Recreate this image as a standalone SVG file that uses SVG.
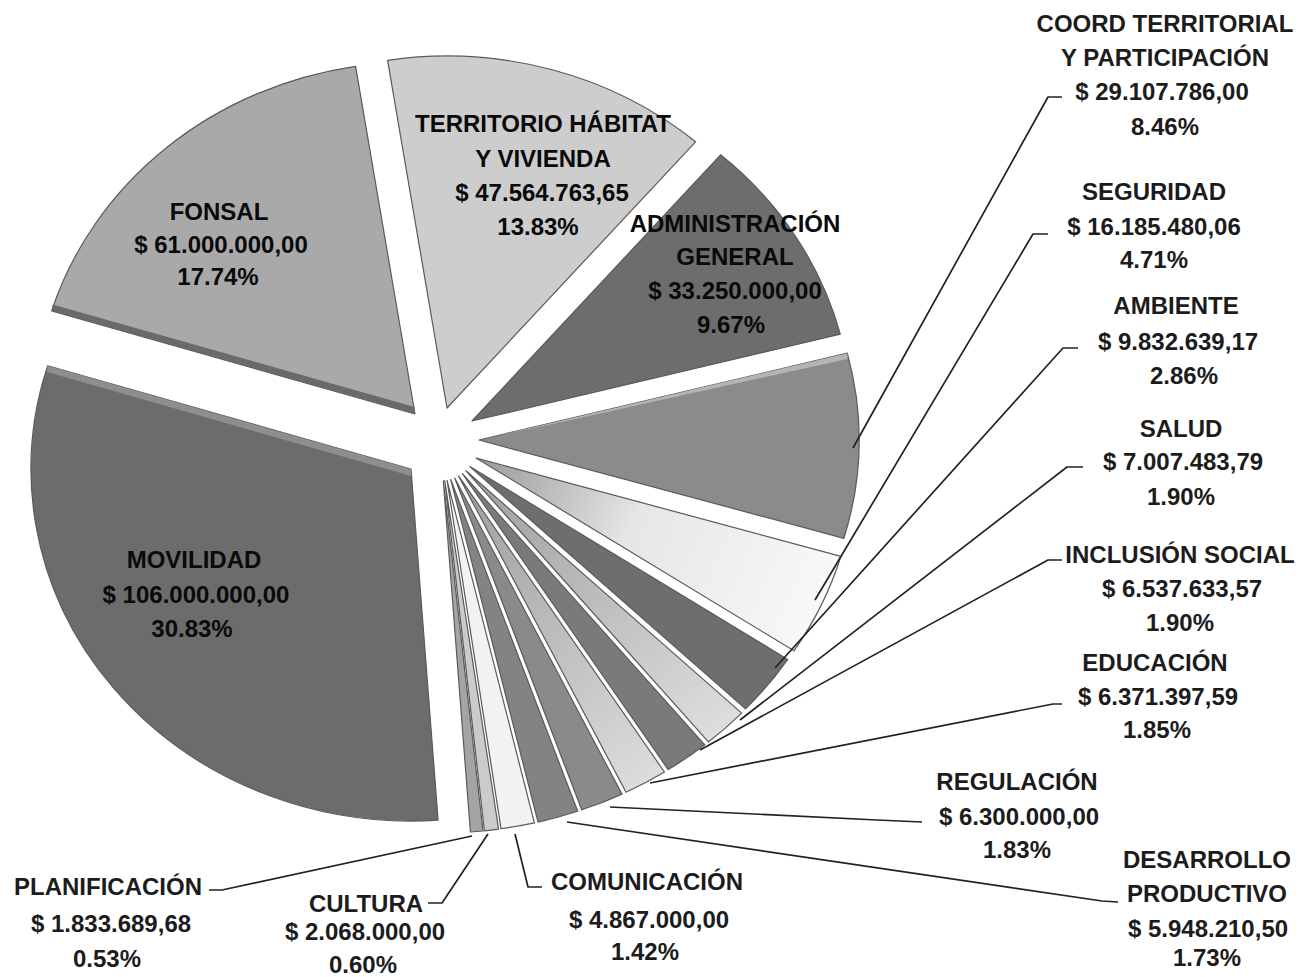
<svg xmlns="http://www.w3.org/2000/svg" width="1309" height="977" viewBox="0 0 1309 977">
<defs>
<style>
.sl{stroke:#5a5a5a;stroke-width:1.2;stroke-linejoin:round}
.t{font-family:"Liberation Sans",Arial,sans-serif;font-weight:bold;font-size:24px;text-anchor:middle;fill:#1c1c1c}
.ti{font-family:"Liberation Sans",Arial,sans-serif;font-weight:bold;font-size:24px;text-anchor:middle;fill:#0a0a0a}
.ld{fill:none;stroke:#222;stroke-width:1.7;stroke-linejoin:round}
</style>
<linearGradient id="gSeg" gradientUnits="userSpaceOnUse" x1="480" y1="460" x2="820" y2="600">
<stop offset="0" stop-color="#9a9a9a"/><stop offset="0.45" stop-color="#e6e6e6"/><stop offset="1" stop-color="#f8f8f8"/>
</linearGradient>
<linearGradient id="gLight" gradientUnits="userSpaceOnUse" x1="460" y1="475" x2="690" y2="760">
<stop offset="0" stop-color="#9c9c9c"/><stop offset="1" stop-color="#dedede"/>
</linearGradient>
</defs>
<rect width="1309" height="977" fill="#ffffff"/>
<g id="slices">
<g id="territorio"><path class="sl" fill="#cdcdcd" d="M447,408 L387.6,60.3 A380,352 0 0 1 695.6,141.8 Z"/></g>
<g id="administracion"><path class="sl" fill="#6d6d6d" d="M472,421 L720.6,154.8 A380,352 0 0 1 840.3,334.2 Z"/></g>
<g id="coord"><path class="sl" fill="#8b8b8b" d="M479,440 L847.3,353.2 A380,352 0 0 1 843.9,538.3 Z"/><path fill="#b4b4b4" d="M479,440 L847.3,353.2 L847.6,359 Z"/></g>
<g id="seguridad"><path class="sl" fill="url(#gSeg)" d="M476,458 L840.9,556.3 A380,352 0 0 1 794,650.8 Z"/></g>
<g id="ambiente"><path class="sl" fill="#6e6e6e" d="M469.8,466.6 L787.8,659.4 A380,352 0 0 1 745.5,708.9 Z"/></g>
<g id="salud"><path class="sl" fill="url(#gLight)" d="M466,470.8 L741.7,713.1 A380,352 0 0 1 708.4,741.9 Z"/></g>
<g id="inclusion"><path class="sl" fill="#7a7a7a" d="M462.4,473.7 L704.8,744.8 A380,352 0 0 1 668.2,769.6 Z"/></g>
<g id="educacion"><path class="sl" fill="url(#gLight)" d="M458.7,476.1 L664.5,772 A380,352 0 0 1 626,792.2 Z"/></g>
<g id="regulacion"><path class="sl" fill="#8a8a8a" d="M454.7,478 L622,794.1 A380,352 0 0 1 581.7,809.8 Z"/></g>
<g id="desarrollo"><path class="sl" fill="#838383" d="M450.7,479.5 L577.7,811.3 A380,352 0 0 1 538,822.1 Z"/></g>
<g id="comunicacion"><path class="sl" fill="#f2f2f2" d="M447.1,480.3 L534.4,822.9 A380,352 0 0 1 501,828.7 Z"/></g>
<g id="cultura"><path class="sl" fill="#cbcbcb" d="M444.7,480.7 L498.6,829.1 A380,352 0 0 1 484.4,830.8 Z"/></g>
<g id="planificacion"><path class="sl" fill="#a4a4a4" d="M443.3,480.9 L483,831 A380,352 0 0 1 470.4,832 Z"/></g>
<g id="movilidad"><path class="sl" fill="#6c6c6c" d="M411,469 L438.1,820.1 A380,352 0 0 1 47.7,365.8 Z"/><path fill="#8e8e8e" d="M47.7,365.8 L411,469 L411,476 L47,372 Z"/></g>
<g id="fonsal"><path class="sl" fill="#a9a9a9" d="M415,414 L51.7,310.8 A380,352 0 0 1 355.6,66.3 Z"/><path fill="#6a6a6a" d="M51.7,310.8 L415,414 L414.6,407 L52.6,304.5 Z"/></g>
</g>
<g id="connectors">
<polyline class="ld" points="853,448 1048,97 1062,97"/>
<polyline class="ld" points="815,600 1033,234 1048,234"/>
<polyline class="ld" points="775,668 1063,348 1078,348"/>
<polyline class="ld" points="740,720 1067,467 1083,467"/>
<polyline class="ld" points="700,750 1048,560 1062,560"/>
<polyline class="ld" points="650,783 1053,704 1062,704"/>
<polyline class="ld" points="610,807 877,820 922,822"/>
<polyline class="ld" points="567,822 1102,901 1118,902"/>
<polyline class="ld" points="515,834 528,887 542,887"/>
<polyline class="ld" points="488,834 442,903 428,903"/>
<polyline class="ld" points="472,836 222,890 209,890"/>
</g>
<g id="labels-inside">
<g id="lbl-territorio"><text class="ti" x="543" y="132">TERRITORIO HÁBITAT</text><text class="ti" x="543" y="167">Y VIVIENDA</text><text class="ti" x="542" y="201">$ 47.564.763,65</text><text class="ti" x="538" y="235">13.83%</text></g>
<g id="lbl-fonsal"><text class="ti" x="219" y="220">FONSAL</text><text class="ti" x="221" y="253">$ 61.000.000,00</text><text class="ti" x="218" y="285">17.74%</text></g>
<g id="lbl-admin"><text class="ti" x="735" y="232">ADMINISTRACIÓN</text><text class="ti" x="735" y="265">GENERAL</text><text class="ti" x="735" y="299">$ 33.250.000,00</text><text class="ti" x="731" y="333">9.67%</text></g>
<g id="lbl-movilidad"><text class="ti" x="194" y="568">MOVILIDAD</text><text class="ti" x="196" y="603">$ 106.000.000,00</text><text class="ti" x="192" y="637">30.83%</text></g>
</g>
<g id="labels-outside">
<g id="lbl-coord"><text class="t" x="1165" y="32">COORD TERRITORIAL</text><text class="t" x="1165" y="66">Y PARTICIPACIÓN</text><text class="t" x="1162" y="100">$ 29.107.786,00</text><text class="t" x="1165" y="135">8.46%</text></g>
<g id="lbl-seguridad"><text class="t" x="1154" y="200">SEGURIDAD</text><text class="t" x="1154" y="235">$ 16.185.480,06</text><text class="t" x="1154" y="268">4.71%</text></g>
<g id="lbl-ambiente"><text class="t" x="1176" y="314">AMBIENTE</text><text class="t" x="1178" y="350">$ 9.832.639,17</text><text class="t" x="1184" y="384">2.86%</text></g>
<g id="lbl-salud"><text class="t" x="1181" y="437">SALUD</text><text class="t" x="1183" y="470">$ 7.007.483,79</text><text class="t" x="1181" y="505">1.90%</text></g>
<g id="lbl-inclusion"><text class="t" x="1180" y="563">INCLUSIÓN SOCIAL</text><text class="t" x="1182" y="597">$ 6.537.633,57</text><text class="t" x="1180" y="631">1.90%</text></g>
<g id="lbl-educacion"><text class="t" x="1155" y="671">EDUCACIÓN</text><text class="t" x="1158" y="705">$ 6.371.397,59</text><text class="t" x="1157" y="738">1.85%</text></g>
<g id="lbl-regulacion"><text class="t" x="1017" y="790">REGULACIÓN</text><text class="t" x="1019" y="825">$ 6.300.000,00</text><text class="t" x="1017" y="858">1.83%</text></g>
<g id="lbl-desarrollo"><text class="t" x="1207" y="868">DESARROLLO</text><text class="t" x="1207" y="902">PRODUCTIVO</text><text class="t" x="1208" y="937">$ 5.948.210,50</text><text class="t" x="1207" y="966">1.73%</text></g>
<g id="lbl-planificacion"><text class="t" x="108" y="895">PLANIFICACIÓN</text><text class="t" x="111" y="932">$ 1.833.689,68</text><text class="t" x="107" y="967">0.53%</text></g>
<g id="lbl-cultura"><text class="t" x="366" y="912">CULTURA</text><text class="t" x="365" y="940">$ 2.068.000,00</text><text class="t" x="363" y="973">0.60%</text></g>
<g id="lbl-comunicacion"><text class="t" x="647" y="890">COMUNICACIÓN</text><text class="t" x="649" y="928">$ 4.867.000,00</text><text class="t" x="645" y="960">1.42%</text></g>
</g>
</svg>
